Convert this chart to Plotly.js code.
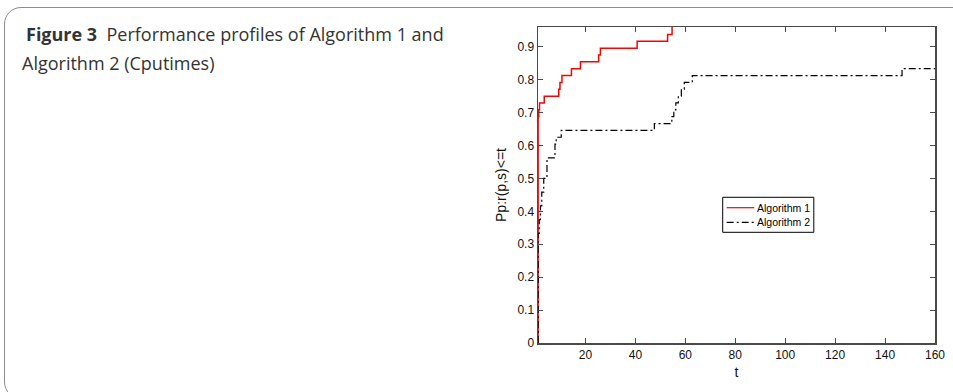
<!DOCTYPE html>
<html>
<head>
<meta charset="utf-8">
<script src="https://cdn.plot.ly/plotly-3.0.1.min.js"></script>
<style>
html,body{margin:0;padding:0;background:#fff;overflow:hidden;}
#card{position:absolute;left:4px;top:7px;width:1000px;height:392px;border:1.5px solid #8c8c8c;border-radius:17px;box-sizing:border-box;}
#chart{position:absolute;left:0;top:0;width:953px;height:392px;}
</style>
</head>
<body>
<div id="card"></div>
<div id="chart"></div>
<script>
// Performance profile data (fractions of 48 problems)
const alg1T = [1, 1.05, 1.3, 1.6, 3.5, 9.3, 9.8, 10.6, 14.4, 18.0, 25.3, 26.0, 40.7, 52.9, 54.7, 160];
const alg1P = [0, 0.6875, 0.7083, 0.7292, 0.75, 0.7708, 0.7917, 0.8125, 0.8333, 0.8542, 0.875, 0.8958, 0.9167, 0.9375, 1.0, 1.0];
const alg2T = [1, 1.05, 1.5, 2.0, 2.5, 3.3, 4.6, 7.8, 8.3, 10.3, 47.6, 54.6, 55.4, 56.2, 57.2, 58.4, 59.6, 62.8, 146.8, 160];
const alg2P = [0, 0.3333, 0.375, 0.4167, 0.4583, 0.5, 0.5625, 0.6042, 0.625, 0.6458, 0.6667, 0.6875, 0.7083, 0.7292, 0.75, 0.7708, 0.7917, 0.8125, 0.8333, 0.8333];
const seriesNames = ['Algorithm 1', 'Algorithm 2'];
const xTicks = [20, 40, 60, 80, 100, 120, 140, 160];
const yTicks = [0, 0.1, 0.2, 0.3, 0.4, 0.5, 0.6, 0.7, 0.8, 0.9];

const FONT = 'Liberation Sans, Arial, sans-serif';
const styles = [
  {color: '#ff0000', width: 1.5, dash: 'solid'},
  {color: '#000000', width: 1.2, dash: '7px,3px,2px,3px'}
];

const traces = [
  {x: alg1T, y: alg1P, name: seriesNames[0], mode: 'lines', line: Object.assign({shape: 'hv'}, styles[0])},
  {x: alg2T, y: alg2P, name: seriesNames[1], mode: 'lines', line: Object.assign({shape: 'hv'}, styles[1])}
];

// pixel -> paper helpers (plot area: x 538..935, y 27..343)
const L = 538, R = 935, T = 27, B = 343;
const px = v => (v - L) / (R - L);
const py = v => (B - v) / (B - T);

const axisCommon = {
  showgrid: false, zeroline: false, showline: true, mirror: 'ticks',
  linecolor: '#4a4a4a', linewidth: 1.5, ticks: 'inside', ticklen: 5, tickcolor: '#4a4a4a', tickwidth: 1,
  tickfont: {family: FONT, size: 12, color: '#111'}
};

// legend box drawn in paper coordinates
const legBox = {x0: 722.7, x1: 813.8, y0: 197.3, y1: 232.3};
const legRows = [207.7, 222.3];
const shapes = [
  {type: 'rect', xref: 'paper', yref: 'paper', x0: px(legBox.x0), x1: px(legBox.x1), y0: py(legBox.y1), y1: py(legBox.y0),
   line: {color: '#000', width: 1}, fillcolor: '#fff', layer: 'above'}
];
const annotations = [
  {xref: 'paper', yref: 'paper', x: px(25), y: py(34), xanchor: 'left', yanchor: 'middle', align: 'left', showarrow: false,
   borderpad: 0, text: '<b>Figure 3</b>  Performance profiles of Algorithm 1 and',
   font: {family: 'Open Sans, Noto Sans, sans-serif', size: 18, color: '#333'}},
  {xref: 'paper', yref: 'paper', x: px(21), y: py(62.5), xanchor: 'left', yanchor: 'middle', align: 'left', showarrow: false,
   borderpad: 0, text: 'Algorithm 2 (Cputimes)',
   font: {family: 'Open Sans, Noto Sans, sans-serif', size: 18, color: '#333'}}
];
seriesNames.forEach((nm, i) => {
  shapes.push({type: 'line', xref: 'paper', yref: 'paper', x0: px(726.7), x1: px(754.3), y0: py(legRows[i]), y1: py(legRows[i]),
    line: {color: styles[i].color, width: 1.2, dash: styles[i].dash}, layer: 'above'});
  annotations.push({xref: 'paper', yref: 'paper', x: px(756.5), y: py(legRows[i]), xanchor: 'left', yanchor: 'middle',
    showarrow: false, borderpad: 0, borderwidth: 0, text: nm, font: {family: FONT, size: 10.5, color: '#000'}});
});

const layout = {
  width: 953, height: 392,
  margin: {l: L, r: 953 - R, t: T, b: 392 - B, pad: 0},
  paper_bgcolor: 'rgba(0,0,0,0)', plot_bgcolor: '#ffffff',
  showlegend: false,
  xaxis: Object.assign({}, axisCommon, {
    range: [1, 160], tickvals: xTicks, ticktext: xTicks.map(String),
    title: {text: 't', font: {family: FONT, size: 14, color: '#111'}, standoff: 6}
  }),
  yaxis: Object.assign({}, axisCommon, {
    range: [0, 0.96], tickvals: yTicks, ticktext: yTicks.map(v => String(v)),
    title: {text: 'Pp:r(p,s)<=t', font: {family: FONT, size: 14, color: '#111'}, standoff: 7}
  }),
  shapes: shapes,
  annotations: annotations
};

Plotly.newPlot('chart', traces, layout, {displayModeBar: false, staticPlot: true});
</script>
</body>
</html>
